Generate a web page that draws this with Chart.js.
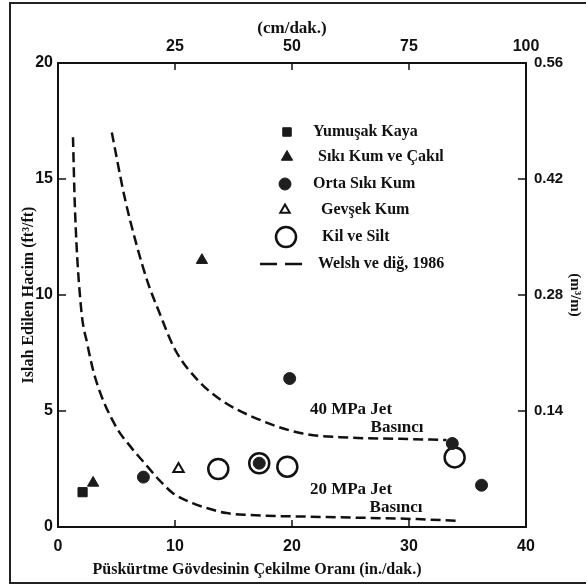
<!DOCTYPE html>
<html>
<head>
<meta charset="utf-8">
<script src="https://cdn.jsdelivr.net/npm/chart.js@4.4.1/dist/chart.umd.min.js"></script>
<style>
  html, body { margin: 0; padding: 0; background: #fff; }
  canvas { display: block; }
</style>
</head>
<body>
<canvas id="grafik" width="587" height="586"></canvas>
<script>
// Ölçüm noktaları (x: in./dak., y: ft³/ft)
const yumusakKaya = [{x: 2.1, y: 1.5}];
const sikiKumCakil = [{x: 3.0, y: 1.9}, {x: 12.3, y: 11.5}];
const ortaSikiKum = [{x: 7.3, y: 2.15}, {x: 17.2, y: 2.75}, {x: 19.8, y: 6.4}, {x: 33.7, y: 3.6}, {x: 36.2, y: 1.8}];
const gevsekKum = [{x: 10.3, y: 2.5}];
const kilSilt = [{x: 13.7, y: 2.5}, {x: 17.2, y: 2.75}, {x: 19.6, y: 2.6}, {x: 33.9, y: 3.0}];

// Welsh ve diğ. 1986 eğrileri
const egri40 = [
  {x: 4.6, y: 17.0}, {x: 5.7, y: 14.2}, {x: 6.75, y: 12.1}, {x: 7.7, y: 10.5}, {x: 8.5, y: 9.45},
  {x: 10, y: 7.65}, {x: 12, y: 6.3}, {x: 14, y: 5.45}, {x: 16.4, y: 4.8}, {x: 20.7, y: 4.05},
  {x: 25, y: 3.85}, {x: 29.2, y: 3.8}, {x: 33.2, y: 3.75}
];
const egri20 = [
  {x: 1.28, y: 16.8}, {x: 1.45, y: 13.7}, {x: 1.97, y: 9.45}, {x: 2.5, y: 7.9}, {x: 3.2, y: 6.4},
  {x: 4.87, y: 4.4}, {x: 6.3, y: 3.4}, {x: 7.4, y: 2.75}, {x: 8.7, y: 2.0}, {x: 9.8, y: 1.47},
  {x: 11.5, y: 1.03}, {x: 12.7, y: 0.82}, {x: 14.4, y: 0.6}, {x: 16.2, y: 0.52}, {x: 23, y: 0.43},
  {x: 30.7, y: 0.34}, {x: 34.3, y: 0.26}
];

// eksen etiketleri
const ustTikler = [25, 50, 75, 100];
const sagTikler = [0.14, 0.28, 0.42, 0.56];
const altTikler = [10, 20, 30];
const solTikler = [5, 10, 15];

const siyah = '#111';
const serif = 'Liberation Serif';

Chart.defaults.font.family = 'Liberation Sans';
Chart.defaults.color = siyah;

// lejant, iç tikler, yazılar
const ekler = {
  id: 'ekler',
  afterDraw(chart) {
    const c = chart.ctx;
    const a = chart.chartArea;
    const s = chart.scales;
    c.save();

    // çerçeve
    c.strokeStyle = '#222';
    c.lineWidth = 2;
    c.beginPath();
    c.moveTo(586, 3); c.lineTo(10, 3); c.lineTo(10, 583); c.lineTo(586, 583);
    c.stroke();

    // içe dönük tik çizgileri
    c.strokeStyle = siyah;
    c.lineWidth = 1.5;
    c.beginPath();
    altTikler.forEach(v => { const px = s.x.getPixelForValue(v); c.moveTo(px, a.bottom); c.lineTo(px, a.bottom - 7); });
    ustTikler.slice(0, 3).forEach(v => { const px = s.x2.getPixelForValue(v); c.moveTo(px, a.top); c.lineTo(px, a.top + 7); });
    solTikler.forEach(v => { const py = s.y.getPixelForValue(v); c.moveTo(a.left, py); c.lineTo(a.left + 8, py); });
    sagTikler.slice(0, 3).forEach(v => { const py = s.y2.getPixelForValue(v); c.moveTo(a.right, py); c.lineTo(a.right - 8, py); });
    c.stroke();

    // lejant
    const ly = [132, 157, 184, 210, 237];
    const lx = [287, 287, 285, 285, 286];
    const tx = [313, 318, 313, 321, 322];
    c.font = 'bold 16px ' + serif;
    c.textBaseline = 'middle';
    c.textAlign = 'left';
    ly.forEach((y, i) => {
      const d = chart.data.datasets[i];
      c.fillStyle = d.backgroundColor;
      c.strokeStyle = d.borderColor;
      c.lineWidth = d.borderWidth;
      Chart.helpers.drawPoint(c, {pointStyle: d.pointStyle, radius: d.legendRadius, rotation: 0, borderWidth: d.borderWidth}, lx[i], y);
      c.fillStyle = siyah;
      c.fillText(d.label, tx[i], y);
    });
    const cizgi = chart.data.datasets[5];
    c.strokeStyle = siyah;
    c.lineWidth = 2.5;
    c.setLineDash([17, 8]);
    c.beginPath(); c.moveTo(260, 264); c.lineTo(303, 264); c.stroke();
    c.setLineDash([]);
    c.fillStyle = siyah;
    c.fillText(cizgi.label, 318, 264);

    // eğri açıklamaları
    c.font = 'bold 17px ' + serif;
    c.textAlign = 'center';
    c.fillText('40 MPa Jet', 351, 410);
    c.fillText('Basıncı', 397, 428);
    c.fillText('20 MPa Jet', 351, 490);
    c.fillText('Basıncı', 396, 508);

    // alt eksen başlığı
    c.font = 'bold 16px ' + serif;
    c.fillText('Püskürtme Gövdesinin Çekilme Oranı (in./dak.)', 257, 570);
    c.restore();
  }
};

const eksen = {
  border: {display: true, color: siyah, width: 2},
  grid: {display: false, drawTicks: false}
};

new Chart(document.getElementById('grafik'), {
  type: 'scatter',
  data: {
    datasets: [
      {
        label: 'Yumuşak Kaya', data: yumusakKaya, pointStyle: 'rect', pointRadius: 6.5, legendRadius: 6,
        backgroundColor: '#1a1a1a', borderColor: '#1a1a1a', borderWidth: 1
      },
      {
        label: 'Sıkı Kum ve Çakıl', data: sikiKumCakil, pointStyle: 'triangle', pointRadius: 6.5, legendRadius: 6.5,
        backgroundColor: '#1a1a1a', borderColor: '#1a1a1a', borderWidth: 1
      },
      {
        label: 'Orta Sıkı Kum', data: ortaSikiKum, pointStyle: 'circle', pointRadius: 6, legendRadius: 6,
        backgroundColor: '#1f1f1f', borderColor: '#1f1f1f', borderWidth: 1
      },
      {
        label: 'Gevşek Kum', data: gevsekKum, pointStyle: 'triangle', pointRadius: 6, legendRadius: 5.5,
        backgroundColor: 'rgba(0,0,0,0)', borderColor: siyah, borderWidth: 2
      },
      {
        label: 'Kil ve Silt', data: kilSilt, pointStyle: 'circle', pointRadius: 10, legendRadius: 10,
        backgroundColor: 'rgba(0,0,0,0)', borderColor: siyah, borderWidth: 2.5
      },
      {
        label: 'Welsh ve diğ, 1986', data: egri40, showLine: true, pointRadius: 0,
        borderColor: siyah, borderWidth: 2.5, borderDash: [10, 5], cubicInterpolationMode: 'monotone'
      },
      {
        label: 'Welsh ve diğ, 1986', data: egri20, showLine: true, pointRadius: 0,
        borderColor: siyah, borderWidth: 2.5, borderDash: [10, 5], cubicInterpolationMode: 'monotone'
      }
    ]
  },
  options: {
    responsive: false,
    animation: false,
    devicePixelRatio: 1,
    layout: {padding: 0},
    plugins: {legend: {display: false}, tooltip: {enabled: false}},
    scales: {
      x: {
        ...eksen, type: 'linear', position: 'bottom', min: 0, max: 40,
        ticks: {stepSize: 10, padding: 10, font: {size: 16, weight: 'bold'}},
        afterFit: sc => { sc.height = 59; }
      },
      x2: {
        ...eksen, type: 'linear', position: 'top', min: 0, max: 100,
        ticks: {padding: 7, font: {size: 16, weight: 'bold'}},
        afterBuildTicks: sc => { sc.ticks = ustTikler.map(v => ({value: v})); },
        title: {display: true, text: '(cm/dak.)', padding: {top: 18, bottom: 0}, font: {family: serif, size: 17, weight: 'bold'}},
        afterFit: sc => { sc.height = 63; }
      },
      y: {
        ...eksen, type: 'linear', position: 'left', min: 0, max: 20,
        ticks: {stepSize: 5, padding: 5, font: {size: 16, weight: 'bold'}},
        title: {display: true, text: 'Islah Edilen Hacim (ft³/ft)', padding: {top: 19, bottom: 0}, font: {family: serif, size: 16, weight: 'bold'}},
        afterFit: sc => { sc.width = 58; }
      },
      y2: {
        ...eksen, type: 'linear', position: 'right', min: 0, max: 0.56,
        ticks: {padding: 8, font: {size: 15, weight: 'bold'}, callback: v => v.toFixed(2)},
        afterBuildTicks: sc => { sc.ticks = sagTikler.map(v => ({value: v})); },
        title: {display: true, text: '(m³/m)', padding: {top: 3, bottom: 0}, font: {family: serif, size: 15, weight: 'bold'}},
        afterFit: sc => { sc.width = 61; }
      }
    }
  },
  plugins: [ekler]
});
</script>
</body>
</html>
